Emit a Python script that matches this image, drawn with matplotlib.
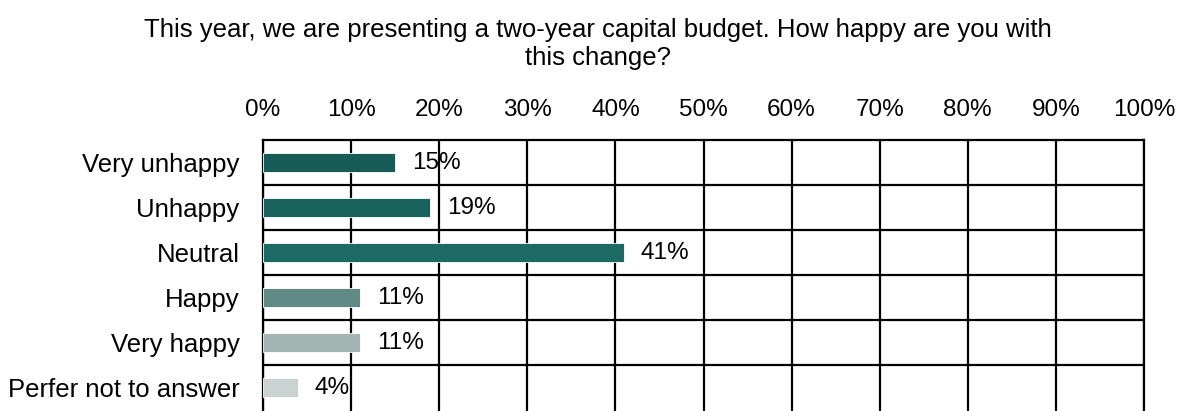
import matplotlib.pyplot as plt
from matplotlib.ticker import MultipleLocator, PercentFormatter

categories = ["Very unhappy", "Unhappy", "Neutral", "Happy", "Very happy", "Perfer not to answer"]
values = [15, 19, 41, 11, 11, 4]
colors = ["#175b56", "#1a625d", "#1d6a65", "#618a86", "#a3b6b3", "#c9d3d1"]

plt.rcParams["font.family"] = ["Liberation Sans", "DejaVu Sans"]

fig = plt.figure(figsize=(11.84, 4.11), dpi=100)
ax = fig.add_axes([263 / 1184, 0.0, (1144 - 263) / 1184, (411 - 140) / 411])

y = list(range(len(categories)))
bars = ax.barh(y, values, height=0.42, color=colors, edgecolor="white", linewidth=0.6, zorder=3)

for bar, v in zip(bars, values):
    ax.text(v + 1.9, bar.get_y() + bar.get_height() / 2, f"{v}%",
            va="center", ha="left", fontsize=17.5, zorder=4)

ax.set_xlim(0, 100)
ax.set_ylim(len(categories) - 0.5 + 0.02, -0.5)
ax.set_yticks(y)
ax.set_yticklabels(categories, fontsize=18.5)
ax.xaxis.set_major_locator(MultipleLocator(10))
ax.xaxis.set_major_formatter(PercentFormatter(decimals=0))
ax.xaxis.tick_top()
ax.tick_params(axis="x", length=0, pad=14, labelsize=17.5)
ax.tick_params(axis="y", length=0, pad=17)

# full grid in both directions, black
ax.set_yticks([i + 0.5 for i in y[:-1]], minor=True)
ax.grid(True, axis="x", color="black", linewidth=1.6, zorder=1)
ax.grid(True, axis="y", which="minor", color="black", linewidth=1.6, zorder=1)
ax.tick_params(axis="y", which="minor", length=0)
for side in ["top", "left", "right"]:
    ax.spines[side].set_color("black")
    ax.spines[side].set_linewidth(1.6)
ax.spines["bottom"].set_visible(False)

fig.suptitle("This year, we are presenting a two-year capital budget. How happy are you with\nthis change?",
             x=598 / 1184, y=0.955, fontsize=18.5, linespacing=1.17, va="top")

fig.savefig("out.png", dpi=100)
